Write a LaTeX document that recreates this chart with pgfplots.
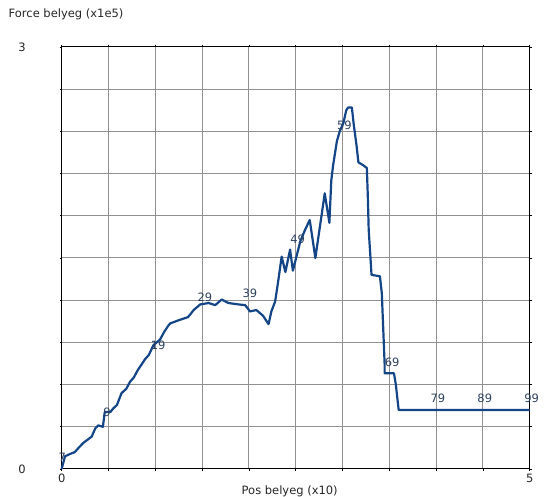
\documentclass[border=0pt]{standalone}
\usepackage{pgfplots}
\pgfplotsset{compat=1.18}
\usepackage{fontspec}
\setmainfont{DejaVu Sans}
\definecolor{curve}{RGB}{20,70,135}
\definecolor{lbl}{RGB}{45,65,95}
\definecolor{gridc}{RGB}{145,145,145}
\newcommand{\lf}{\fontsize{11.5}{13}\selectfont}
\begin{document}
\lf
\begin{tikzpicture}[font=\lf]
\begin{axis}[
  scale only axis, width=468pt, height=422pt,
  xmin=0, xmax=5, ymin=0, ymax=3,
  xtick={0,0.5,1,1.5,2,2.5,3,3.5,4,4.5,5},
  xticklabels={0,,,,,,,,,,5},
  ytick={0,0.3,0.6,0.9,1.2,1.5,1.8,2.1,2.4,2.7,3},
  yticklabels={0,,,,,,,,,,3},
  grid=major,
  major grid style={gridc, line width=1pt},
  axis line style={black, line width=1pt},
  tick style={black, line width=0.6pt},
  major tick length=2pt,
  tick align=outside,
  /pgf/number format/assume math mode=true,
  ticklabel style={font=\lf, text=black!85},
  yticklabel style={xshift=-30pt},
  xticklabel style={yshift=1pt},
  xlabel={\lf Pos belyeg (x10)},
  ylabel={\lf Force belyeg (x1e5)},
  every axis x label/.style={at={(rel axis cs:0.5,0)}, anchor=center, xshift=-6pt, yshift=-22pt, text=black!85, font=\lf},
  every axis y label/.style={at={(rel axis cs:0,1)}, anchor=west, xshift=-57pt, yshift=33pt, text=black!85, font=\lf},
  clip=false,
]
\addplot[curve, line width=2.2pt, line join=round] coordinates {
(0,0) (0.035,0.09) (0.09,0.107) (0.14,0.12) (0.18,0.15) (0.23,0.185)
(0.32,0.23) (0.36,0.29) (0.39,0.31) (0.44,0.30) (0.46,0.405) (0.52,0.405)
(0.55,0.43) (0.59,0.455) (0.64,0.54) (0.69,0.57) (0.73,0.62) (0.77,0.65)
(0.81,0.70) (0.85,0.74) (0.89,0.78) (0.93,0.81) (0.98,0.88) (1.05,0.92)
(1.10,0.98) (1.14,1.02) (1.16,1.035) (1.26,1.06) (1.35,1.08) (1.41,1.13)
(1.48,1.17) (1.57,1.18) (1.64,1.165) (1.71,1.205) (1.78,1.18) (1.89,1.17)
(1.96,1.165) (1.99,1.14) (2.01,1.12) (2.08,1.13) (2.15,1.09) (2.21,1.03)
(2.24,1.12) (2.28,1.19) (2.31,1.32) (2.35,1.51) (2.39,1.40) (2.44,1.56)
(2.47,1.41) (2.55,1.62) (2.60,1.70) (2.65,1.77) (2.71,1.50) (2.78,1.82)
(2.81,1.96) (2.86,1.75) (2.88,2.05) (2.90,2.16) (2.94,2.33) (2.97,2.40)
(3.01,2.46) (3.04,2.55) (3.06,2.57) (3.10,2.57) (3.12,2.45) (3.15,2.30)
(3.17,2.18) (3.22,2.16) (3.26,2.14) (3.27,1.95) (3.28,1.70) (3.30,1.49)
(3.31,1.38) (3.40,1.37) (3.42,1.25) (3.45,0.75) (3.45,0.68) (3.55,0.68)
(3.57,0.60) (3.60,0.42) (5.00,0.42)
};
\addplot[draw=none, mark=none, nodes near coords, point meta=explicit symbolic,
  every node near coord/.style={anchor=center, inner sep=0pt, text=lbl, font=\lf}]
  table[meta=lab] {
x y lab
0.005 0.08 7
0.485 0.40 9
1.03 0.88 19
1.53 1.22 29
2.01 1.25 39
2.52 1.63 49
3.02 2.44 59
3.53 0.76 69
4.02 0.505 79
4.52 0.505 89
5.02 0.505 99
};
\coordinate (O) at (rel axis cs:0,0);
\end{axis}
\pgfresetboundingbox
\path (O) ++(-61.7pt,-28pt) rectangle ++(544pt,497pt);
\end{tikzpicture}
\end{document}
